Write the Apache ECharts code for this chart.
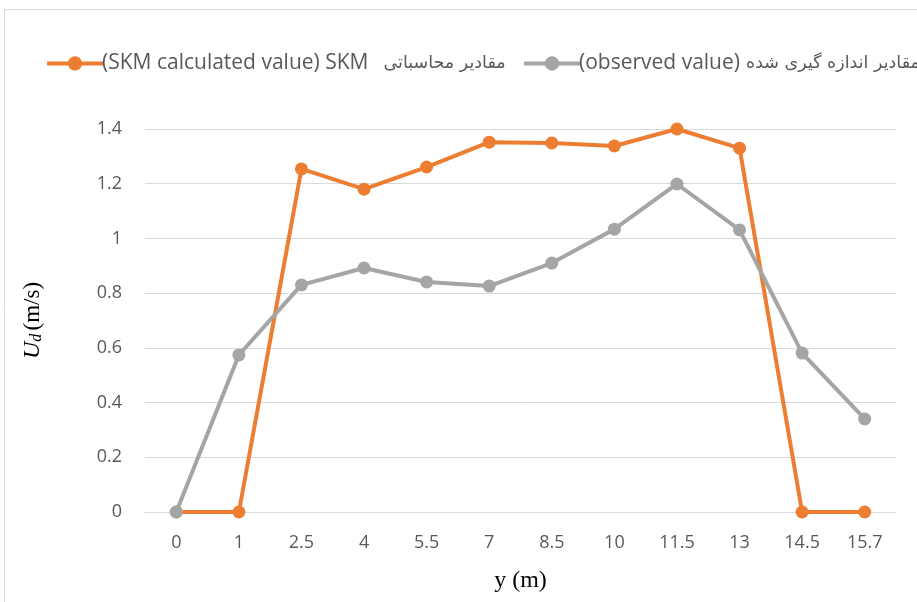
<!DOCTYPE html>
<html>
<head>
<meta charset="utf-8">
<script src="https://cdn.jsdelivr.net/npm/echarts@6/dist/echarts.min.js"></script>
<style>
html,body{margin:0;padding:0;background:#fff;}
#main{width:917px;height:602px;}
</style>
</head>
<body>
<div id="main"></div>
<script>
const categories = ['0','1','2.5','4','5.5','7','8.5','10','11.5','13','14.5','15.7'];
const skmValues = [0, 0, 1.254, 1.18, 1.261, 1.352, 1.349, 1.338, 1.40, 1.33, 0, 0];
const observedValues = [0, 0.574, 0.83, 0.892, 0.841, 0.826, 0.91, 1.034, 1.199, 1.031, 0.581, 0.34];
const skmName = 'مقادیر محاسباتی SKM (SKM calculated value)';
const observedName = 'مقادیر اندازه گیری شده (observed value)';
const skmLegendParts = ['(SKM calculated value) SKM', 'مقادیر محاسباتی'];
const observedLegendParts = ['(observed value)', 'مقادیر اندازه گیری شده'];

const chart = echarts.init(document.getElementById('main'), null, {renderer: 'canvas'});
const labelFont = '"Open Sans", "DejaVu Sans", sans-serif';
const legendRich = {
  e: {color: '#595959', fontSize: 21, fontFamily: labelFont},
  a: {color: '#595959', fontSize: 17.5, fontFamily: '"DejaVu Sans", sans-serif'},
  g1: {width: 15},
  g2: {width: 6}
};
function legendBase(name, left) {
  return {
    data: [name],
    left: left, top: 48,
    itemWidth: 56, itemHeight: 18, itemGap: 10,
    lineStyle: {width: 4},
    textStyle: {rich: legendRich, padding: [0, 0, 0, -6]}
  };
}
const legend1 = legendBase(skmName, 40);
legend1.formatter = () => '{e|' + skmLegendParts[0] + '}{g1|}{a|' + skmLegendParts[1] + '}';
const legend2 = legendBase(observedName, 517);
legend2.formatter = () => '{e|' + observedLegendParts[0] + '}{g2|}{a|' + observedLegendParts[1] + '}';

chart.setOption({
  backgroundColor: '#ffffff',
  animation: false,
  graphic: [{
    type: 'polyline',
    shape: {points: [[4.5, 602], [4.5, 9.5], [917, 9.5]]},
    style: {stroke: '#d9d9d9', lineWidth: 1, fill: null},
    silent: true
  }],
  legend: [legend1, legend2],
  grid: {left: 145, right: 21, top: 129, bottom: 90, containLabel: false},
  xAxis: {
    type: 'category',
    data: categories,
    boundaryGap: true,
    name: 'y (m)',
    nameLocation: 'middle',
    nameGap: 57,
    nameTextStyle: {fontFamily: '"Liberation Serif", "Times New Roman", serif', fontSize: 24, color: '#000'},
    axisLine: {lineStyle: {color: '#d9d9d9', width: 1}},
    axisTick: {show: false},
    axisLabel: {color: '#595959', fontSize: 18, margin: 22, fontFamily: labelFont}
  },
  yAxis: {
    type: 'value',
    min: 0, max: 1.4, interval: 0.2,
    name: '{i|U}{s|d} {n|(m/s)}',
    nameLocation: 'middle',
    nameGap: 100,
    nameRotate: 90,
    nameTextStyle: {
      rich: {
        i: {fontFamily: '"Liberation Serif", serif', fontStyle: 'italic', fontSize: 24, color: '#000'},
        s: {fontFamily: '"Liberation Serif", serif', fontStyle: 'italic', fontSize: 16, color: '#000', padding: [9, 0, 0, 0]},
        n: {fontFamily: '"Liberation Serif", serif', fontSize: 23, color: '#000'}
      }
    },
    axisLine: {show: false},
    axisTick: {show: false},
    splitLine: {lineStyle: {color: '#d9d9d9', width: 1}},
    axisLabel: {color: '#595959', fontSize: 18, margin: 23, fontFamily: labelFont,
      formatter: v => String(Math.round(v * 10) / 10)}
  },
  series: [{
    name: skmName,
    type: 'line',
    data: skmValues,
    symbol: 'circle',
    symbolSize: 13,
    z: 3,
    lineStyle: {color: '#ED7D31', width: 4},
    itemStyle: {color: '#ED7D31'}
  }, {
    name: observedName,
    type: 'line',
    data: observedValues,
    symbol: 'circle',
    symbolSize: 13,
    z: 4,
    lineStyle: {color: '#A5A5A5', width: 4},
    itemStyle: {color: '#A5A5A5'}
  }]
});
</script>
</body>
</html>
